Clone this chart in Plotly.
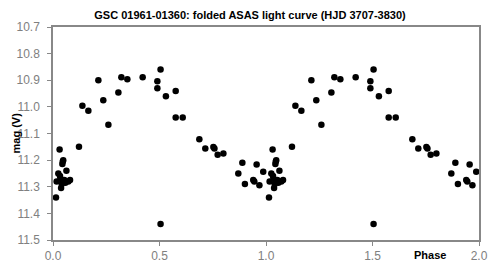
import plotly.graph_objects as go

phase = [0.014, 0.017, 0.025, 0.031, 0.033, 0.035, 0.038, 0.041, 0.044, 0.046,
         0.048, 0.053, 0.058, 0.063, 0.072, 0.080, 0.122, 0.138, 0.166, 0.213,
         0.236, 0.260, 0.307, 0.321, 0.349, 0.421, 0.490, 0.490, 0.505, 0.505,
         0.530, 0.576, 0.576, 0.609, 0.687, 0.715, 0.753, 0.758, 0.773, 0.800,
         0.870, 0.889, 0.901, 0.940, 0.945, 0.956, 0.969, 0.987]
mag = [11.34, 11.28, 11.25, 11.16, 11.26, 11.27, 11.305, 11.29, 11.215, 11.205,
       11.20, 11.275, 11.285, 11.24, 11.28, 11.275, 11.15, 10.996, 11.015, 10.90,
       10.975, 11.067, 10.946, 10.889, 10.896, 10.889, 10.904, 10.93, 10.86, 11.44,
       10.96, 10.94, 11.04, 11.04, 11.122, 11.156, 11.151, 11.156, 11.18, 11.175,
       11.25, 11.21, 11.29, 11.275, 11.28, 11.216, 11.294, 11.244]

x_ticks = [0.0, 0.5, 1.0, 1.5, 2.0]
x_labels = ["0.0", "0.5", "1.0", "1.5", "2.0"]
y_ticks = [10.7, 10.8, 10.9, 11.0, 11.1, 11.2, 11.3, 11.4, 11.5]
y_labels = ["10.7", "10.8", "10.9", "11.0", "11.1", "11.2", "11.3", "11.4", "11.5"]

xs = phase + [p + 1 for p in phase]
ys = mag + mag

fig = go.Figure()
fig.add_trace(go.Scatter(x=xs, y=ys, mode="markers",
                         marker=dict(symbol="circle", size=6.5, color="black"),
                         cliponaxis=False, showlegend=False))

axis_color = "#888888"
fig.update_layout(
    width=488, height=267,
    margin=dict(l=53, r=9, t=27, b=27, autoexpand=False),
    paper_bgcolor="white", plot_bgcolor="white",
    font=dict(family="Liberation Sans, Arial, sans-serif", size=12, color="#808080"),
    title=dict(text="<b>GSC 01961-01360: folded ASAS light curve (HJD 3707-3830)</b>",
               x=250 / 488, xref="container", xanchor="center",
               y=1 - 15 / 267, yref="container", yanchor="middle",
               font=dict(size=11, color="black")),
    xaxis=dict(range=[0, 2], tickvals=x_ticks, ticktext=x_labels, automargin=False,
               showgrid=False, zeroline=False, showline=True, linecolor=axis_color,
               linewidth=1.5, mirror=True, ticks="outside", ticklen=4,
               tickcolor=axis_color, ticklabeloverflow="allow",
               tickfont=dict(size=12, color="#808080")),
    yaxis=dict(range=[11.5, 10.7], tickvals=y_ticks, ticktext=y_labels, automargin=False,
               showgrid=False, zeroline=False, showline=True, linecolor=axis_color,
               linewidth=1.5, mirror=True, ticks="outside", ticklen=4,
               tickcolor=axis_color, ticklabelstandoff=5, ticklabeloverflow="allow",
               tickfont=dict(size=12, color="#808080")),
)
fig.add_annotation(text="<b>mag (V)</b>", xref="paper", yref="paper",
                   x=-38 / 426, y=0.5, xanchor="center", yanchor="middle",
                   textangle=-90, showarrow=False, font=dict(size=11, color="black"))
fig.add_annotation(text="<b>Phase</b>", xref="paper", yref="paper",
                   x=(430 - 53) / 426, y=-15 / 213.3, xanchor="center", yanchor="middle",
                   showarrow=False, font=dict(size=11, color="black"))

fig.write_html("out.html", config={"displayModeBar": False},
               post_script="document.body.style.margin='0';document.body.style.padding='0';")
